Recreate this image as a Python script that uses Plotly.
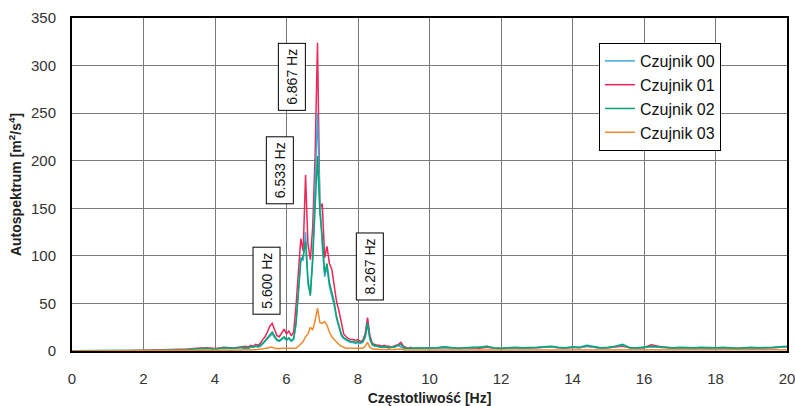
import numpy as np
import plotly.graph_objects as go

# ---------------- data ----------------
# frequency grid: coarse below 4.8 Hz, 1/15 Hz resolution 4.8-9.6 Hz, 0.2 Hz above
freq_low = [round(0.25 * i, 3) for i in range(20)]            # 0 .. 4.75
freq_mid = [round(4.8 + k / 15, 3) for k in range(73)]         # 4.8 .. 9.6
freq_high = [round(9.8 + 0.2 * i, 3) for i in range(52)]       # 9.8 .. 20.0
freq = freq_low + freq_mid + freq_high

series_names = ["Czujnik 00", "Czujnik 01", "Czujnik 02", "Czujnik 03"]

c00_low = [0.2, 0.2, 0.2, 0.2, 0.3, 0.3, 0.3, 0.4, 0.6, 0.5,
           0.8, 1.2, 1.0, 1.6, 2.2, 2.8, 2.0, 3.2, 2.6, 3.6]
c01_low = [0.3, 0.2, 0.3, 0.2, 0.3, 0.4, 0.3, 0.5, 0.8, 0.6,
           1.0, 1.5, 1.2, 2.0, 2.8, 3.5, 2.5, 4.0, 3.2, 4.5]
c02_low = [0.2, 0.2, 0.2, 0.2, 0.3, 0.3, 0.3, 0.4, 0.6, 0.5,
           0.9, 1.3, 1.1, 1.7, 2.4, 3.0, 2.2, 3.4, 2.8, 3.8]
c03_low = [0.1, 0.1, 0.1, 0.1, 0.1, 0.2, 0.1, 0.2, 0.3, 0.2,
           0.3, 0.5, 0.4, 0.6, 0.8, 1.0, 0.7, 1.0, 0.9, 1.0]

c00_mid = [3, 3, 3, 4, 4, 5, 4, 5, 7, 10,
           13, 16, 18, 14, 11, 10, 12, 14, 11, 13,
           10, 12, 28, 58, 98, 95, 125, 70, 60, 100,
           175, 250, 160, 110, 78, 88, 68, 58, 48, 34,
           26, 16, 13, 11, 10, 9, 9, 8, 9, 8,
           9, 14, 28, 12, 6, 5, 5, 4, 4, 4,
           4, 3, 4, 4, 5, 6, 4, 3, 3, 3,
           3, 3, 3]
c01_mid = [4, 5, 4, 6, 5, 7, 6, 8, 12, 15,
           20, 26, 29, 22, 16, 15, 19, 23, 18, 21,
           16, 20, 48, 80, 118, 105, 185, 112, 96, 130,
           205, 324, 150, 155, 98, 110, 92, 86, 70, 52,
           42, 28, 18, 15, 13, 12, 12, 11, 12, 10,
           11, 18, 35, 16, 8, 7, 6, 6, 5, 6,
           5, 5, 4, 5, 6, 7, 9, 5, 4, 3,
           4, 3, 3]
c02_mid = [3, 4, 3, 5, 4, 5, 5, 6, 8, 11,
           14, 18, 20, 16, 12, 11, 13, 15, 12, 14,
           11, 13, 30, 62, 95, 100, 115, 75, 58, 95,
           160, 205, 145, 120, 82, 92, 72, 62, 52, 36,
           28, 18, 14, 12, 11, 10, 10, 9, 10, 9,
           10, 15, 30, 13, 7, 6, 5, 5, 4, 5,
           4, 4, 4, 4, 5, 6, 7, 4, 3, 3,
           3, 3, 3]
c03_mid = [1, 1, 1, 1.5, 1, 1.5, 1.5, 2, 2, 3,
           3, 4, 4, 3, 2.5, 2.5, 3, 3, 2.5, 3,
           2.5, 3, 3, 5, 8, 10, 15, 18, 25, 22,
           32, 45, 30, 29, 31, 27, 20, 15, 12, 9,
           7, 5, 4, 3, 3, 3, 2.5, 2.5, 3, 2.5,
           3, 5, 9, 4, 2, 2, 1.5, 1.5, 1.5, 1.5,
           1.2, 1.2, 1.2, 1.5, 1.5, 2, 1.5, 1, 1, 1,
           1, 1, 1]

c00_high = [3.0, 2.5, 3.0, 3.5, 3.0, 2.5, 3.0, 3.5, 4.0, 5.0,
            3.0, 2.5, 3.0, 3.5, 3.0, 3.0, 3.5, 4.0, 4.5, 3.5,
            3.0, 4.0, 3.5, 5.0, 4.0, 3.0, 3.5, 4.5, 6.0, 3.5,
            3.0, 3.5, 4.5, 4.0, 3.5, 3.0, 3.5, 3.0, 3.0, 3.5,
            3.0, 3.0, 3.5, 3.0, 2.5, 3.0, 3.5, 3.0, 3.0, 3.5,
            4.0, 4.5]
c01_high = [3.0, 2.5, 3.0, 4.0, 3.0, 2.5, 3.0, 3.5, 3.0, 4.0,
            3.0, 2.5, 3.0, 3.5, 3.0, 3.0, 3.5, 4.0, 4.5, 3.5,
            3.0, 4.0, 3.5, 5.0, 4.0, 3.0, 3.5, 4.0, 5.0, 3.5,
            3.0, 3.5, 6.5, 5.0, 4.0, 3.0, 3.5, 3.0, 3.0, 3.5,
            3.0, 3.0, 3.5, 3.0, 2.5, 3.0, 3.5, 3.0, 3.0, 3.5,
            4.0, 4.5]
c02_high = [3.5, 3.0, 3.5, 4.5, 3.5, 3.0, 3.5, 4.0, 3.5, 5.0,
            3.5, 3.0, 3.5, 4.0, 3.5, 3.5, 4.0, 4.5, 5.0, 4.0,
            3.5, 4.5, 4.0, 6.0, 4.5, 3.5, 4.0, 5.0, 7.0, 3.5,
            3.5, 4.0, 5.0, 4.5, 4.0, 3.5, 4.0, 3.5, 3.5, 4.0,
            3.5, 3.5, 4.0, 3.5, 3.0, 3.5, 4.0, 3.5, 3.5, 4.0,
            4.5, 5.0]
c03_high = [1.0, 1.2, 1.0, 1.3, 1.0, 1.1, 1.0, 1.2, 1.0, 1.3,
            1.0, 1.1, 1.2, 1.0, 1.1, 1.0, 1.2, 1.3, 1.2, 1.0,
            1.1, 1.2, 1.0, 1.4, 1.2, 1.0, 1.1, 1.3, 1.5, 1.1,
            1.0, 1.1, 1.6, 1.3, 1.1, 1.0, 1.1, 1.0, 1.0, 1.1,
            1.0, 1.0, 1.1, 1.0, 0.9, 1.0, 1.1, 1.0, 1.0, 1.1,
            1.2, 1.3]

series_values = [
    c00_low + c00_mid + c00_high,
    c01_low + c01_mid + c01_high,
    c02_low + c02_mid + c02_high,
    c03_low + c03_mid + c03_high,
]
for v in series_values:
    assert len(v) == len(freq), (len(v), len(freq))

peak_labels = ["5.600 Hz", "6.533 Hz", "6.867 Hz", "8.267 Hz"]
x_ticks = list(range(0, 21, 2))
y_ticks = list(range(0, 351, 50))

# ---------------- styling ----------------
colors = ["#3fa9d9", "#ee2557", "#0aa372", "#f08a2c"]
draw_order = [1, 0, 2, 3]
# annotation box centres (data coords)
label_pos = [(5.43, 74), (5.82, 190), (6.15, 288), (8.34, 89)]
FONT = "Liberation Sans, Arial"

fig = go.Figure()
for i in draw_order:
    fig.add_trace(go.Scatter(
        x=freq, y=series_values[i], mode="lines", name=series_names[i],
        line=dict(color=colors[i], width=1.5), legendrank=i + 1,
    ))

for txt, (ax_, ay_) in zip(peak_labels, label_pos):
    fig.add_annotation(
        x=ax_, y=ay_, xref="x", yref="y", text=txt, showarrow=False,
        textangle=-90, font=dict(family=FONT, size=14, color="#111"),
        bgcolor="white", bordercolor="black", borderwidth=1, borderpad=5,
    )

axis_common = dict(
    showline=True, mirror=True, linecolor="black", linewidth=2,
    showgrid=True, gridcolor="#7a7a7a", gridwidth=1,
    zeroline=False, ticks="", automargin=False,
    ticklabeloverflow="allow",
    tickfont=dict(family=FONT, size=15, color="#333"),
)

fig.update_xaxes(range=[0, 20], tickvals=x_ticks, ticklabelstandoff=13,
                 title=dict(text="<b>Częstotliwość [Hz]</b>", standoff=8,
                            font=dict(family=FONT, size=14, color="#222")),
                 **axis_common)
fig.update_yaxes(range=[0, 350], tickvals=y_ticks, ticklabelstandoff=11,
                 title=dict(text="<b>Autospektrum [m<sup>2</sup>/s<sup>4</sup>]</b>", standoff=6,
                            font=dict(family=FONT, size=14, color="#222")),
                 **axis_common)

fig.update_layout(
    width=795, height=406,
    margin=dict(l=72, r=8, t=18, b=55),
    paper_bgcolor="white", plot_bgcolor="white",
    showlegend=True,
    legend=dict(x=0.737, y=0.925, xanchor="left", yanchor="top",
                bgcolor="white", bordercolor="black", borderwidth=1,
                font=dict(family=FONT, size=16, color="#111"),
                tracegroupgap=0),
)

fig.write_html(
    "out.html",
    config={"displayModeBar": False},
    post_script="document.body.style.margin='0';document.body.style.overflow='hidden';",
)
